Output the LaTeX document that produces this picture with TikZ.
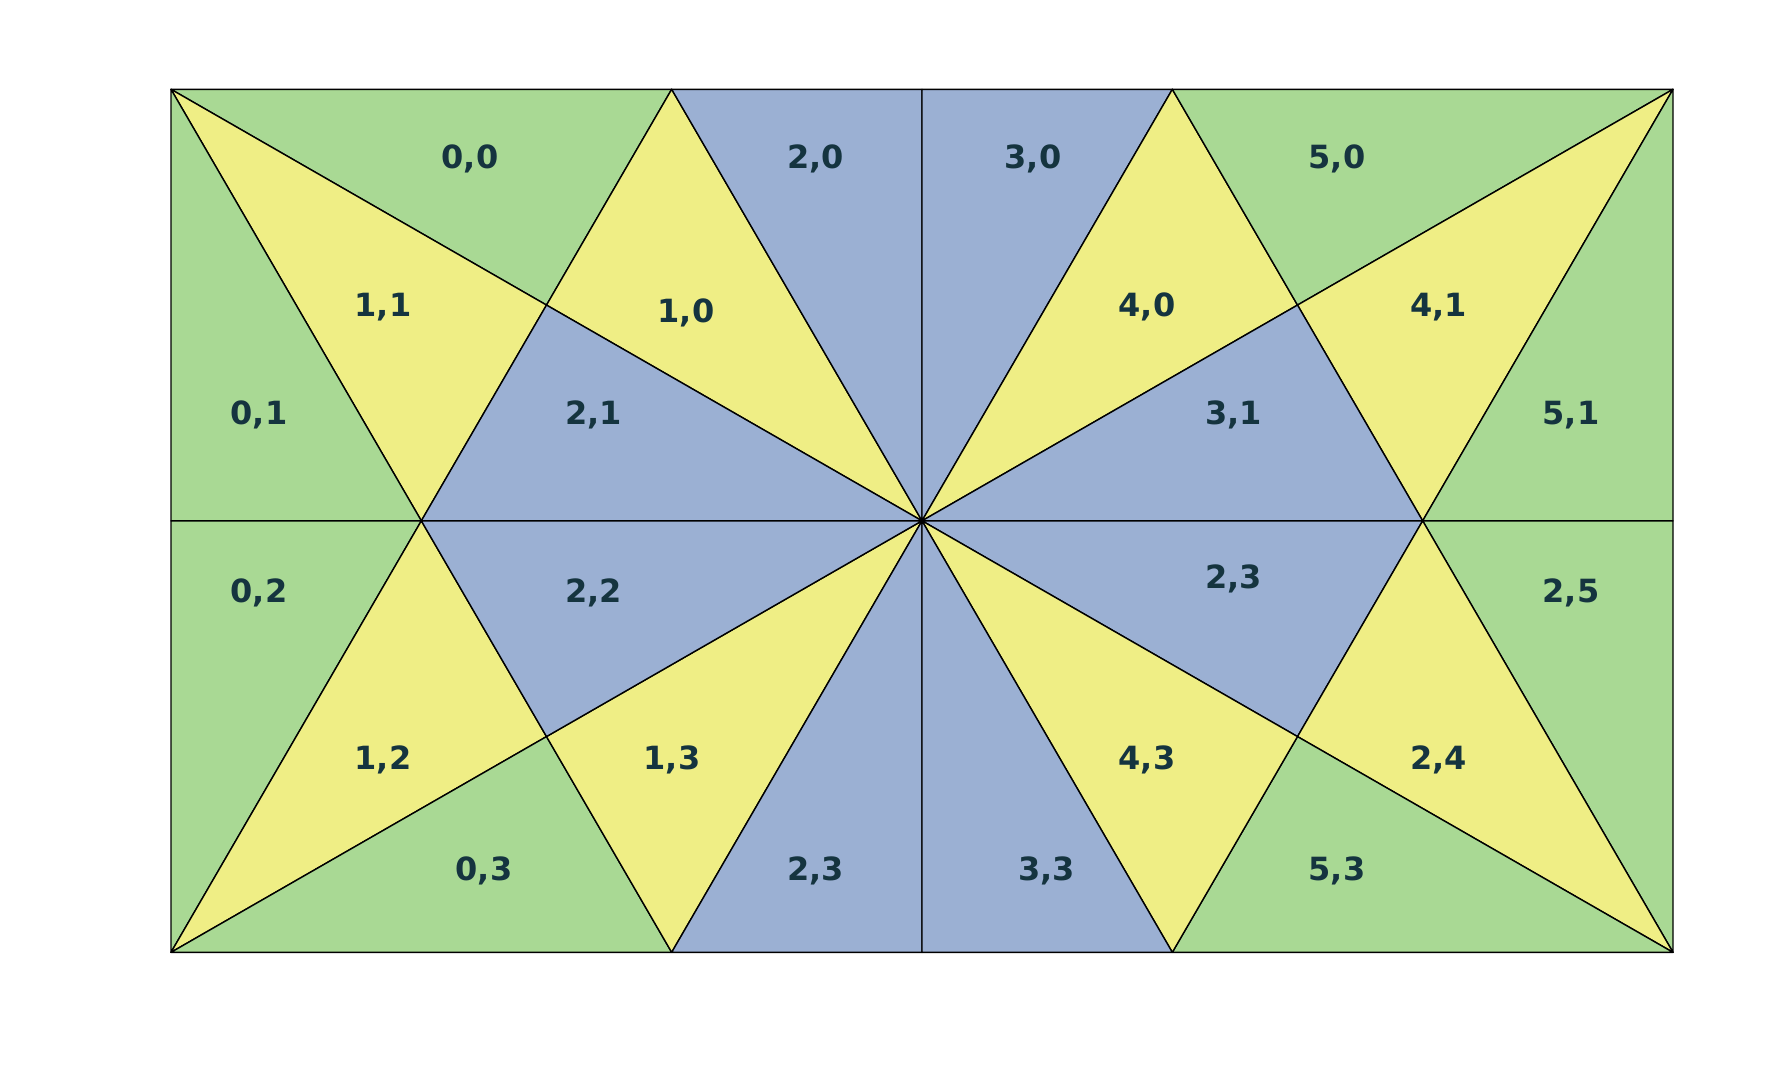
\documentclass[tikz,border=0pt]{standalone}
\usepackage{fontspec}
\setmainfont{DejaVu Sans}
\definecolor{tgreen}{HTML}{A9D994}
\definecolor{tyellow}{HTML}{EFEE85}
\definecolor{tblue}{HTML}{9BB0D3}
\definecolor{tink}{HTML}{15343F}
\newcommand{\tri}[4]{\filldraw[#1] (#2) -- (#3) -- (#4) -- cycle;}

\begin{document}
\begin{tikzpicture}
    [gr/.style={fill=tgreen,draw=black,line width=0.4pt,line join=round},
    ye/.style={fill=tyellow,draw=black,line width=0.4pt,line join=round},
    bl/.style={fill=tblue,draw=black,line width=0.4pt,line join=round},
    lbl/.style={anchor=base,inner sep=0pt,text=tink,font=\fontsize{9.1}{11}\selectfont\bfseries},
    ]
    \useasboundingbox (0,0) rectangle (17.76,-10.64);
    \begin{scope}[shift={(1.71,-0.893)},x=2.5033cm,y=-4.315cm]
        \foreach \i in {0,...,6}{\foreach \j in {0,1,2} \coordinate (g\i\j) at (\i,\j);}
        \coordinate (p1) at (1.5,0.5);
        \coordinate (p2) at (4.5,0.5);
        \coordinate (p3) at (1.5,1.5);
        \coordinate (p4) at (4.5,1.5);
        % top left
        \tri{gr}{g00}{g20}{p1}
        \tri{ye}{g00}{p1}{g11}
        \tri{gr}{g00}{g11}{g01}
        \tri{ye}{g20}{g31}{p1}
        \tri{bl}{p1}{g11}{g31}
        \tri{bl}{g20}{g30}{g31}
        % top right
        \tri{bl}{g30}{g40}{g31}
        \tri{ye}{g40}{p2}{g31}
        \tri{gr}{g40}{g60}{p2}
        \tri{ye}{g60}{p2}{g51}
        \tri{bl}{p2}{g51}{g31}
        \tri{gr}{g60}{g61}{g51}
        % bottom left
        \tri{gr}{g01}{g11}{g02}
        \tri{ye}{g02}{g11}{p3}
        \tri{gr}{g02}{p3}{g22}
        \tri{ye}{p3}{g22}{g31}
        \tri{bl}{g11}{g31}{p3}
        \tri{bl}{g22}{g32}{g31}
        % bottom right
        \tri{bl}{g31}{g51}{p4}
        \tri{gr}{g51}{g61}{g62}
        \tri{ye}{g51}{p4}{g62}
        \tri{gr}{p4}{g42}{g62}
        \tri{ye}{g31}{p4}{g42}
        \tri{bl}{g32}{g42}{g31}
    \end{scope}
    % labels
    \node[lbl] (n00) at (4.70,-1.68) {0,0};
    \node[lbl] (n20) at (8.155,-1.68) {2,0};
    \node[lbl] (n30) at (10.33,-1.68) {3,0};
    \node[lbl] (n50) at (13.37,-1.68) {5,0};
    \node[lbl] (n11) at (3.83,-3.16) {1,1};
    \node[lbl] (n10) at (6.86,-3.22) {1,0};
    \node[lbl] (n40) at (11.47,-3.16) {4,0};
    \node[lbl] (n41) at (14.385,-3.16) {4,1};
    \node[lbl] (n01) at (2.59,-4.24) {0,1};
    \node[lbl] (n21) at (5.935,-4.24) {2,1};
    \node[lbl] (n31) at (12.335,-4.24) {3,1};
    \node[lbl] (n51) at (15.71,-4.24) {5,1};
    \node[lbl] (n02) at (2.59,-6.02) {0,2};
    \node[lbl] (n22) at (5.935,-6.02) {2,2};
    \node[lbl] (n23a) at (12.335,-5.88) {2,3};
    \node[lbl] (n25) at (15.71,-6.02) {2,5};
    \node[lbl] (n12) at (3.83,-7.69) {1,2};
    \node[lbl] (n13) at (6.72,-7.69) {1,3};
    \node[lbl] (n43) at (11.47,-7.69) {4,3};
    \node[lbl] (n24) at (14.385,-7.69) {2,4};
    \node[lbl] (n03) at (4.84,-8.80) {0,3};
    \node[lbl] (n23b) at (8.155,-8.80) {2,3};
    \node[lbl] (n33) at (10.466,-8.80) {3,3};
    \node[lbl] (n53) at (13.37,-8.80) {5,3};
\end{tikzpicture}
\end{document}
